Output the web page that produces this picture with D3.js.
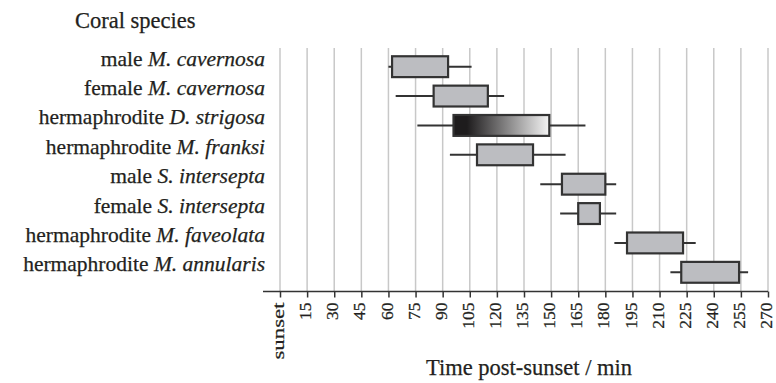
<!DOCTYPE html>
<html>
<head>
<meta charset="utf-8">
<script src="https://cdn.jsdelivr.net/npm/d3@7"></script>
<style>
  body { margin: 0; background: #fff; }
  text { font-family: "Liberation Serif", "Times New Roman", serif; fill: #231f20; stroke: #231f20; stroke-width: 0.25px; }
</style>
</head>
<body>
<svg id="chart" width="776" height="383"></svg>
<script>
// ---- data: spawning window per coral, minutes after sunset
const sexes   = ["male", "female", "hermaphrodite", "hermaphrodite", "male", "female", "hermaphrodite", "hermaphrodite"];
const species = ["M. cavernosa", "M. cavernosa", "D. strigosa", "M. franksi", "S. intersepta", "S. intersepta", "M. faveolata", "M. annularis"];
const whiskerLow  = [60, 64, 76, 94, 144, 155, 185, 216];
const boxLow      = [62, 85, 96, 109, 156, 165, 192, 222];
const boxHigh     = [93, 115, 149, 140, 180, 177, 223, 254];
const whiskerHigh = [106, 124, 169, 158, 186, 186, 230, 259];
const gradientRow = 2; // D. strigosa drawn with dark-to-light fill
const tickValues = d3.range(0, 271, 15);

const rows = sexes.map((s, i) => ({
  i, sex: s, name: species[i],
  wl: whiskerLow[i], bl: boxLow[i], bh: boxHigh[i], wh: whiskerHigh[i]
}));

const svg = d3.select("#chart");
const ink = "#333";

const x = d3.scaleLinear().domain([0, 270]).range([280, 768]);
const y = d3.scaleBand().domain(d3.range(rows.length)).range([52, 287]).padding(0);
const boxH = y.bandwidth() * 0.71;
const axisY = 291.5;

// gradient for D. strigosa
const defs = svg.append("defs");
const grad = defs.append("linearGradient").attr("id", "strigosa")
  .attr("x1", "0%").attr("x2", "100%").attr("y1", "0%").attr("y2", "0%");
grad.append("stop").attr("offset", "0%").attr("stop-color", "#1e1c1d");
grad.append("stop").attr("offset", "14%").attr("stop-color", "#1e1c1d");
grad.append("stop").attr("offset", "100%").attr("stop-color", "#f4f4f4");

//_________________ grid lines
svg.append("g").selectAll("line")
  .data(tickValues)
  .enter().append("line")
  .attr("x1", d => x(d)).attr("x2", d => x(d))
  .attr("y1", 48).attr("y2", axisY)
  .attr("stroke", "#c8c8c8")
  .attr("stroke-width", 1.5);

//_________________ axis
const xAxis = d3.axisBottom(x)
  .tickValues(tickValues)
  .tickSize(6)
  .tickSizeOuter(0)
  .tickFormat(d => d === 0 ? "sunset" : d);

const ax = svg.append("g").attr("transform", `translate(0,${axisY})`).call(xAxis);
ax.select(".domain").remove();
ax.append("line")
  .attr("x1", x.range()[0] - 17).attr("x2", x.range()[1])
  .attr("stroke", ink).attr("stroke-width", 1.5);
ax.selectAll(".tick line").attr("stroke", ink).attr("stroke-width", 1.5);
ax.selectAll(".tick text")
  .attr("transform", "rotate(-90)")
  .attr("text-anchor", "end")
  .attr("x", -11)
  .attr("y", -2)
  .attr("dy", "0.32em")
  .style("font-family", "'Liberation Serif', serif")
  .style("font-size", "17.5px")
  .attr("fill", "#231f20");
// "sunset" is set wider in the original
ax.selectAll(".tick text").filter(d => d === 0)
  .attr("textLength", 57)
  .attr("lengthAdjust", "spacingAndGlyphs");

svg.append("text")
  .attr("x", 529)
  .attr("y", 375)
  .attr("text-anchor", "middle")
  .style("font-size", "22.5px")
  .text("Time post-sunset / min");

svg.append("text")
  .attr("x", 75).attr("y", 28)
  .style("font-size", "22.5px")
  .text("Coral species");

//_________________ rows
const rowG = svg.append("g").selectAll("g")
  .data(rows)
  .enter().append("g")
  .attr("transform", d => `translate(0,${y(d.i) + y.bandwidth() / 2})`);

rowG.append("line")
  .attr("x1", d => x(d.wl)).attr("x2", d => x(d.wh))
  .attr("stroke", ink).attr("stroke-width", 2);

rowG.append("rect")
  .attr("x", d => x(d.bl))
  .attr("y", -boxH / 2)
  .attr("width", d => x(d.bh) - x(d.bl))
  .attr("height", boxH)
  .attr("fill", d => d.i === gradientRow ? "url(#strigosa)" : "#bcbdc1")
  .attr("stroke", ink)
  .attr("stroke-width", 2.2);

const lab = rowG.append("text")
  .attr("x", 265)
  .attr("y", -1)
  .attr("text-anchor", "end")
  .style("font-size", "21.5px");
lab.append("tspan").text(d => d.sex + " ");
lab.append("tspan").style("font-style", "italic").text(d => d.name);
</script>
</body>
</html>
